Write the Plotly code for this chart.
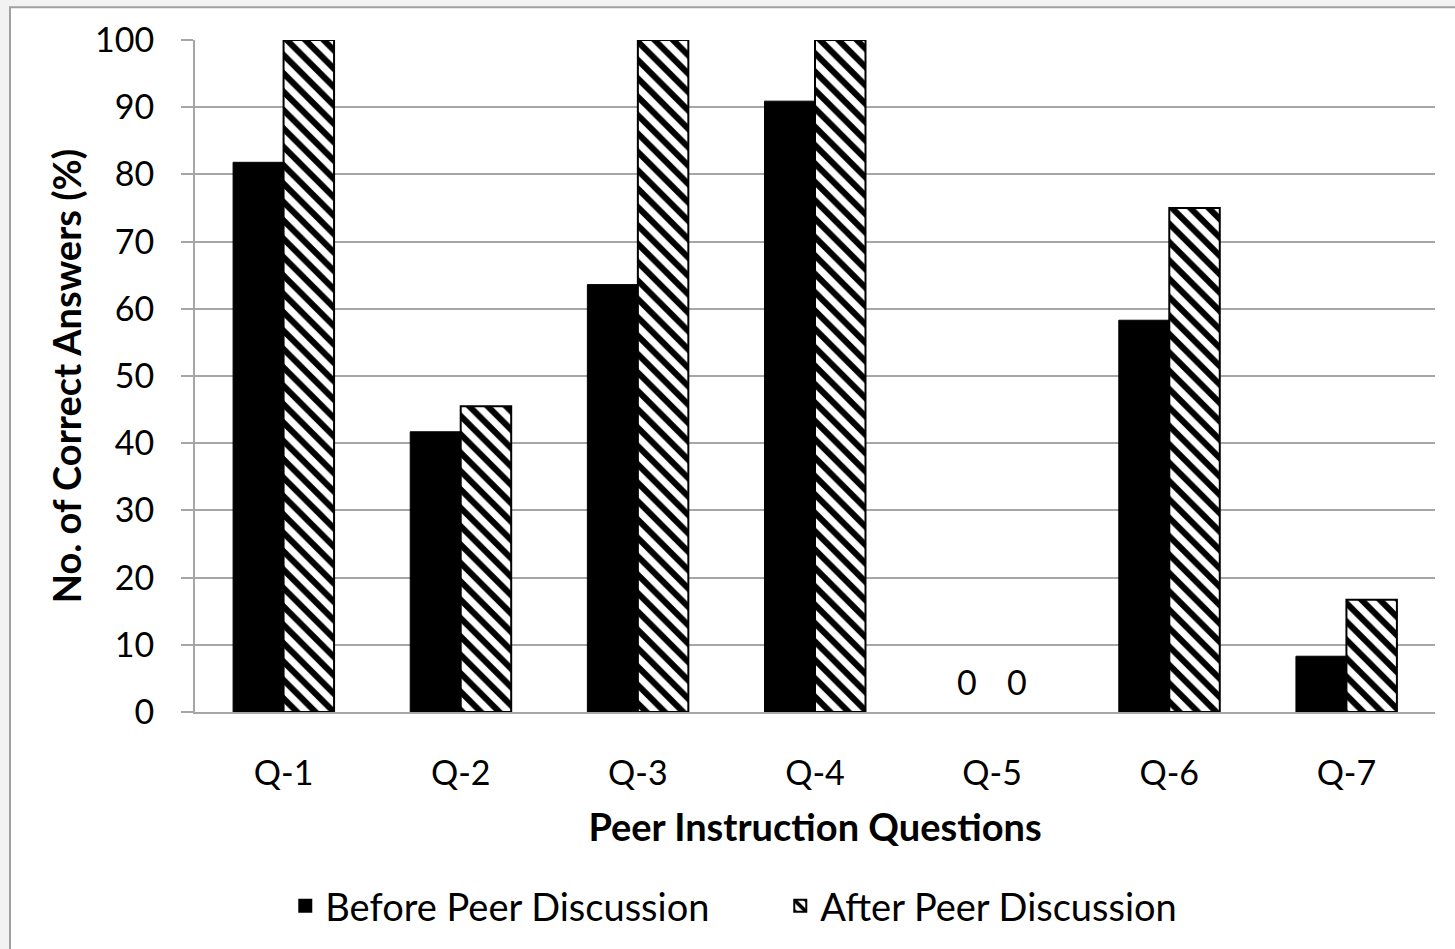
import plotly.graph_objects as go

# Percentage of correct answers per peer-instruction question
questions = ["Q-1", "Q-2", "Q-3", "Q-4", "Q-5", "Q-6", "Q-7"]
before_discussion = [81.8, 41.7, 63.6, 90.9, 0, 58.3, 8.3]
after_discussion = [100, 45.5, 100, 100, 0, 75, 16.7]
y_ticks = [0, 10, 20, 30, 40, 50, 60, 70, 80, 90, 100]

FONT = "Lato"
GRID = "#a6a6a6"
TICK_SIZE = 34
TEXT_SIZE = 38

# plot area in pixels (for positioning the outer frame)
W, H = 1455, 949
L, R, T, B = 195, 20, 40, 234
pw, ph = W - L - R, H - T - B


def px_x(x):
    return (x - L) / pw


def px_y(y):
    return (H - B - y) / ph


def outline(vals, w):
    # no outline on empty bars
    return [0 if v == 0 else w for v in vals]


fig = go.Figure()
fig.add_trace(go.Bar(
    x=questions, y=before_discussion, name="Before Peer Discussion",
    marker=dict(color="black", line=dict(color="black", width=outline(before_discussion, 1))),
))
fig.add_trace(go.Bar(
    x=questions, y=after_discussion, name="After Peer Discussion",
    marker=dict(
        color="white",
        line=dict(color="black", width=outline(after_discussion, 2)),
        pattern=dict(shape="\\", fgcolor="black", bgcolor="white", fgopacity=1,
                     size=13, solidity=0.47),
    ),
))

# label zero-height bars with their value
for i, q in enumerate(questions):
    for shift, vals in ((-25, before_discussion), (25, after_discussion)):
        if vals[i] == 0:
            fig.add_annotation(x=q, y=vals[i], text=str(vals[i]), showarrow=False,
                               xshift=shift, yanchor="bottom", yshift=8,
                               font=dict(family=FONT, size=TICK_SIZE, color="black"))

# outer chart frame
fig.add_shape(type="rect", xref="paper", yref="paper", layer="below",
              x0=px_x(10), x1=px_x(1475), y0=px_y(965), y1=px_y(7),
              fillcolor="white", line=dict(color="#a0a0a0", width=2))

fig.update_layout(
    width=W, height=H,
    margin=dict(l=L, r=R, t=T, b=B),
    paper_bgcolor="#f2f2f2", plot_bgcolor="white",
    barmode="group", bargap=0.43, bargroupgap=0,
    font=dict(family=FONT, size=TICK_SIZE, color="black"),
    showlegend=True,
    legend=dict(orientation="h", x=0.472, xanchor="center", y=px_y(910), yanchor="middle",
                font=dict(family=FONT, size=TEXT_SIZE), itemsizing="constant",
                bgcolor="rgba(0,0,0,0)", traceorder="normal", itemwidth=30,
                entrywidth=450),
    xaxis=dict(
        showgrid=False, showline=True, linecolor=GRID, linewidth=2,
        ticks="", tickfont=dict(size=TICK_SIZE), ticklabelstandoff=30,
        title=dict(text="<b>Peer Instruction Questions</b>", font=dict(size=TEXT_SIZE), standoff=24),
    ),
    yaxis=dict(
        range=[0, 100], tickvals=y_ticks, showgrid=True, gridcolor=GRID, gridwidth=2,
        showline=True, linecolor=GRID, linewidth=2, zeroline=False,
        ticks="outside", ticklen=12, tickcolor=GRID, tickwidth=2,
        tickfont=dict(size=TICK_SIZE), ticklabelstandoff=20,
        title=dict(text="<b>No. of Correct Answers (%)</b>", font=dict(size=TEXT_SIZE), standoff=2),
    ),
)

fig.write_html("out.html")
